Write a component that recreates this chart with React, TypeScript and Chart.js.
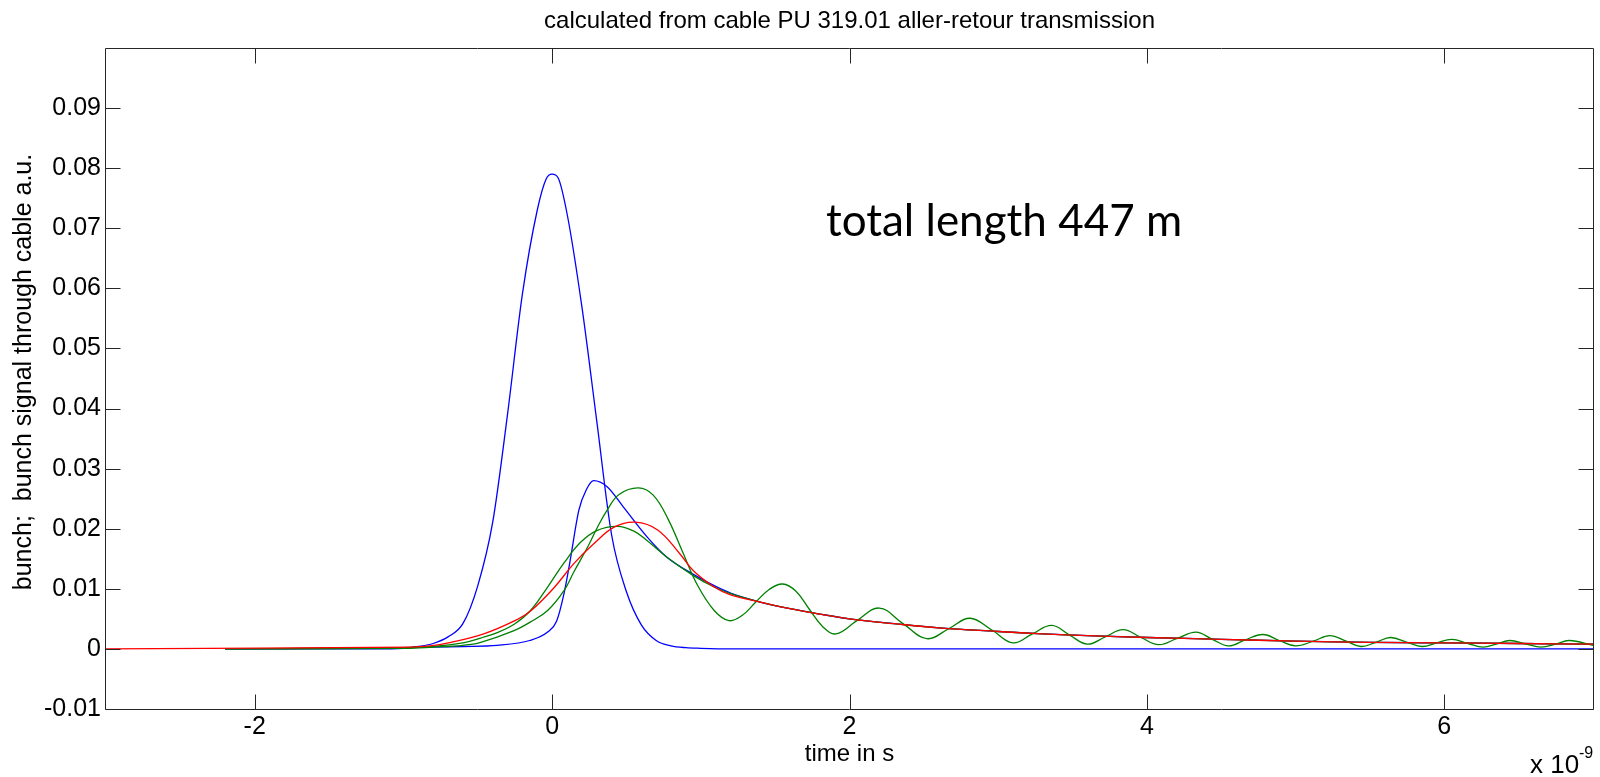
import React, { useEffect, useRef } from 'react';
import { Chart, registerables } from 'chart.js';

Chart.register(...registerables);

const chartTitle = 'calculated from cable PU 319.01 aller-retour transmission';
const xAxisTitle = 'time in s';
const yAxisTitle = 'bunch;  bunch signal through cable a.u.';
const annotationText = 'total length 447 m';
const xExponentBase = 'x 10';
const xExponent = '-9';

const xTickValues = [-2, 0, 2, 4, 6];
const xTickLabels = ['-2', '0', '2', '4', '6'];
const yTickValues = [-0.01, 0, 0.01, 0.02, 0.03, 0.04, 0.05, 0.06, 0.07, 0.08, 0.09];
const yTickLabels = ['-0.01', '0', '0.01', '0.02', '0.03', '0.04', '0.05', '0.06', '0.07', '0.08', '0.09'];

// bunch (blue, tall)
const bunchTime = [-2.2, -1.2, -1.0, -0.9, -0.8, -0.7, -0.6, -0.5, -0.4, -0.3, -0.2, -0.1, -0.04, 0, 0.04, 0.1, 0.2, 0.3, 0.4, 0.5, 0.6, 0.7, 0.8, 0.9, 1.0, 1.2, 7.0];
const bunchValue = [0, 0, 0.0001, 0.0004, 0.0009, 0.002, 0.0042, 0.0105, 0.021, 0.039, 0.059, 0.073, 0.0782, 0.079, 0.0784, 0.0725, 0.057, 0.038, 0.019, 0.0095, 0.004, 0.0014, 0.0005, 0.0002, 0.0001, 0, 0];

// signal through cable (blue, small)
const blueTime = [-2.2, -1.0, -0.6, -0.37, -0.15, -0.03, 0.03, 0.08, 0.12, 0.18, 0.23, 0.28, 0.37, 0.48, 0.64, 0.77, 0.95, 1.1, 1.2, 1.4, 1.6, 1.8, 2.0, 2.3, 2.6, 3.0, 3.3, 3.6, 4.0, 4.5, 5.0, 5.5, 6.0, 6.5, 7.0];
const blueValue = [0, 0.0002, 0.0004, 0.0006, 0.0014, 0.0028, 0.0046, 0.0092, 0.0145, 0.0231, 0.0265, 0.028, 0.027, 0.0236, 0.0186, 0.0153, 0.0124, 0.0104, 0.0093, 0.0078, 0.0067, 0.0058, 0.005, 0.0042, 0.0035, 0.0029, 0.0025, 0.0022, 0.0019, 0.0016, 0.0013, 0.0011, 0.001, 0.0009, 0.0008];

// green, broad
const greenATime = [-2.2, -1.0, -0.8, -0.6, -0.48, -0.36, -0.25, -0.145, -0.03, 0.08, 0.19, 0.3, 0.44, 0.55, 0.64, 0.77, 0.95, 1.09, 1.2, 1.4, 1.6, 1.8, 2.0, 2.3, 2.6, 3.0, 3.3, 3.6, 4.0, 4.5, 5.0, 5.5, 6.0, 6.5, 7.0];
const greenAValue = [0, 0.0002, 0.0004, 0.001, 0.0018, 0.0028, 0.0042, 0.0064, 0.0103, 0.0143, 0.0177, 0.0197, 0.0204, 0.0196, 0.018, 0.0153, 0.0122, 0.0103, 0.0092, 0.0078, 0.0067, 0.0058, 0.005, 0.0042, 0.0035, 0.0029, 0.0025, 0.0022, 0.0019, 0.0016, 0.0013, 0.0011, 0.001, 0.0009, 0.0008];

// green, ringing
const greenBTime = [-2.2, -1.0, -0.8, -0.6, -0.48, -0.26, -0.145, -0.03, 0.08, 0.146, 0.24, 0.3, 0.37, 0.45, 0.58, 0.68, 0.78, 0.88, 0.98, 1.09, 1.19, 1.28, 1.37, 1.46, 1.55, 1.64, 1.73, 1.82, 1.91, 2.05, 2.2, 2.36, 2.52, 2.67, 2.81, 2.96, 3.1, 3.23, 3.36, 3.48, 3.6, 3.72, 3.84, 3.96, 4.08, 4.2, 4.33, 4.44, 4.55, 4.66, 4.78, 4.89, 5.0, 5.12, 5.23, 5.34, 5.44, 5.54, 5.64, 5.75, 5.85, 5.95, 6.05, 6.16, 6.26, 6.35, 6.44, 6.55, 6.65, 6.75, 6.84, 7.0];
const greenBValue = [0, 0.0001, 0.0003, 0.0006, 0.0011, 0.003, 0.0045, 0.0064, 0.0097, 0.0128, 0.017, 0.02, 0.0231, 0.0257, 0.0268, 0.0256, 0.0216, 0.016, 0.0105, 0.0064, 0.0047, 0.0056, 0.0078, 0.0099, 0.0108, 0.0096, 0.0066, 0.0037, 0.0025, 0.0047, 0.0068, 0.0042, 0.0017, 0.0034, 0.0051, 0.0031, 0.001, 0.0025, 0.0039, 0.0023, 0.0008, 0.002, 0.0032, 0.0019, 0.0007, 0.0017, 0.0028, 0.0016, 0.0005, 0.0015, 0.0024, 0.0014, 0.0005, 0.0013, 0.0022, 0.0013, 0.0004, 0.0011, 0.0019, 0.0011, 0.0004, 0.001, 0.0016, 0.0009, 0.0003, 0.0008, 0.0014, 0.0008, 0.0003, 0.0008, 0.0014, 0.0006];

// red
const redTime = [-3, -0.95, -0.82, -0.68, -0.46, -0.25, -0.145, 0.01, 0.146, 0.28, 0.42, 0.56, 0.71, 0.86, 0.95, 1.09, 1.2, 1.4, 1.6, 1.8, 2.0, 2.3, 2.6, 3.0, 3.3, 3.6, 4.0, 4.5, 5.0, 5.5, 6.0, 6.5, 7.0];
const redValue = [0, 0.0003, 0.0005, 0.0011, 0.0025, 0.0047, 0.0063, 0.0101, 0.0142, 0.0175, 0.0203, 0.0211, 0.0198, 0.0158, 0.013, 0.0103, 0.009, 0.0078, 0.0067, 0.0058, 0.005, 0.0042, 0.0035, 0.0029, 0.0025, 0.0022, 0.0019, 0.0016, 0.0013, 0.0011, 0.001, 0.0009, 0.0008];

const FONT = "'Liberation Sans', Arial, sans-serif";

const toPoints = (t: number[], v: number[]) => t.map((x, i) => ({ x, y: v[i] }));

const lineDataset = (label: string, t: number[], v: number[], color: string, order: number, smooth: 'monotone' | number) => ({
  label,
  data: toPoints(t, v),
  borderColor: color,
  backgroundColor: color,
  borderWidth: 1.3,
  pointRadius: 0,
  fill: false,
  cubicInterpolationMode: smooth === 'monotone' ? ('monotone' as const) : ('default' as const),
  tension: smooth === 'monotone' ? 0 : smooth,
  order,
});

const decorPlugin = {
  id: 'matlabDecor',
  afterDraw(chart: any) {
    const { ctx, chartArea } = chart;
    const { left, right, top, bottom } = chartArea;
    const xs = chart.scales.x;
    const ys = chart.scales.y;
    ctx.save();
    ctx.strokeStyle = '#262626';
    ctx.lineWidth = 1;
    const L = Math.round(left) - 0.5;
    const R = Math.round(right) + 0.5;
    const T = Math.round(top) + 0.5;
    const B = Math.round(bottom) + 0.5;
    ctx.beginPath();
    ctx.rect(L, T, R - L, B - T);
    const tl = 15;
    xs.ticks.forEach((tk: any) => {
      const px = Math.round(xs.getPixelForValue(tk.value)) + 0.5;
      ctx.moveTo(px, B);
      ctx.lineTo(px, B - tl);
      ctx.moveTo(px, T);
      ctx.lineTo(px, T + tl);
    });
    ys.ticks.forEach((tk: any) => {
      const py = Math.round(ys.getPixelForValue(tk.value)) + 0.5;
      ctx.moveTo(L, py);
      ctx.lineTo(L + tl, py);
      ctx.moveTo(R, py);
      ctx.lineTo(R - tl, py);
    });
    ctx.stroke();

    ctx.fillStyle = '#000';
    // y axis title
    ctx.save();
    ctx.translate(31, 372);
    ctx.rotate(-Math.PI / 2);
    ctx.font = `25px ${FONT}`;
    ctx.textAlign = 'center';
    ctx.textBaseline = 'alphabetic';
    ctx.fillText(yAxisTitle, 0, 0);
    ctx.restore();

    // exponent label
    ctx.font = `26px ${FONT}`;
    ctx.textAlign = 'left';
    ctx.textBaseline = 'alphabetic';
    ctx.fillText(xExponentBase, 1530, 773);
    ctx.font = `16px ${FONT}`;
    ctx.fillText(xExponent, 1579, 758);

    // annotation
    ctx.font = `44px Lato, 'Open Sans', sans-serif`;
    ctx.fillText(annotationText, 826, 236);
    ctx.restore();
  },
};

export default function App() {
  const ref = useRef<HTMLCanvasElement>(null);
  useEffect(() => {
    if (!ref.current) return;
    const chart = new Chart(ref.current, {
      type: 'line',
      data: {
        datasets: [
          lineDataset('bunch', bunchTime, bunchValue, '#0000ff', 3, 'monotone'),
          lineDataset('cable blue', blueTime, blueValue, '#0000ff', 4, 'monotone'),
          lineDataset('cable green broad', greenATime, greenAValue, '#008000', 2, 0.4),
          lineDataset('cable green ringing', greenBTime, greenBValue, '#008000', 1, 0.4),
          lineDataset('cable red', redTime, redValue, '#ff0000', 0, 0.4),
        ],
      },
      options: {
        animation: false,
        responsive: false,
        devicePixelRatio: 1,
        layout: { padding: { top: 0, right: 7, left: 0, bottom: 0 } },
        plugins: {
          legend: { display: false },
          tooltip: { enabled: false },
          title: {
            display: true,
            fullSize: false,
            text: chartTitle,
            color: '#000',
            font: { family: FONT, size: 24, weight: 'normal' },
            padding: { top: 7, bottom: 12.2 },
          },
        },
        scales: {
          x: {
            type: 'linear',
            min: -3,
            max: 7,
            grid: { display: false, drawTicks: false },
            border: { display: false },
            afterBuildTicks: (scale: any) => {
              scale.ticks = xTickValues.map((value) => ({ value }));
            },
            afterFit: (scale: any) => {
              scale.height = 68;
            },
            ticks: {
              color: '#000',
              font: { family: FONT, size: 25 },
              padding: 3,
              maxRotation: 0,
              autoSkip: false,
              callback: (_v: any, i: number) => xTickLabels[i],
            },
            title: {
              display: true,
              text: xAxisTitle,
              color: '#000',
              font: { family: FONT, size: 24 },
              padding: { top: 0, bottom: 8 },
            },
          },
          y: {
            type: 'linear',
            min: -0.01,
            max: 0.1,
            grid: { display: false, drawTicks: false },
            border: { display: false },
            afterBuildTicks: (scale: any) => {
              scale.ticks = yTickValues.map((value) => ({ value }));
            },
            afterFit: (scale: any) => {
              scale.width = 106;
            },
            ticks: {
              color: '#000',
              font: { family: FONT, size: 25 },
              padding: 5,
              autoSkip: false,
              callback: (_v: any, i: number) => yTickLabels[i],
            },
          },
        },
      },
      plugins: [decorPlugin],
    } as any);
    return () => chart.destroy();
  }, []);
  return (
    <div style={{ position: 'absolute', left: 0, top: 0, width: 1600, height: 777, background: '#fff' }}>
      <canvas ref={ref} width={1600} height={777} style={{ display: 'block' }} />
    </div>
  );
}
